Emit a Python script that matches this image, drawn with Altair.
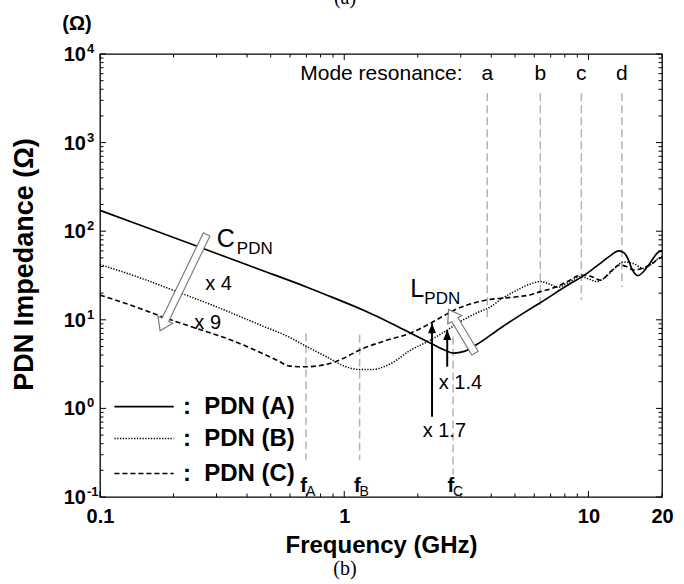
import altair as alt
import pandas as pd
import numpy as np

# ---------------- data ----------------
freq_A = [0.1, 0.14, 0.2, 0.3, 0.45, 0.7, 0.9, 1.2, 1.6, 1.9, 2.3, 2.6, 2.8, 3.1, 3.5, 4.4, 5.5, 6.4,
          8.4, 9.4, 11.0, 12.3, 13.3, 14.0, 14.5, 15.1, 15.9, 16.8, 18.0, 19.3, 20.0]
imp_A = [172, 122, 85, 56, 37, 23.5, 17.8, 12.8, 8.8, 6.9, 5.3, 4.5, 4.2, 4.4, 5.3, 8.2, 12.2, 15.8,
         25.5, 30.5, 42, 53, 60, 57, 49, 37, 31.5, 35, 45, 58, 60]

freq_B = [0.1, 0.14, 0.2, 0.3, 0.45, 0.6, 0.7, 0.85, 1.0, 1.15, 1.3, 1.55, 1.86, 2.25, 2.65, 2.9, 3.5,
          4.0, 4.4, 5.0, 5.7, 6.35, 7.0, 7.5, 8.2, 9.3, 10.0, 10.8, 11.7, 12.8, 13.9, 15.3, 16.8, 18.0,
          19.7, 20.0]
imp_B = [42, 31, 21.5, 14, 8.8, 6.3, 5.0, 3.8, 3.0, 2.75, 2.75, 3.2, 4.5, 5.9, 7.7, 9.1, 12,
         14.2, 17.2, 21, 25, 27, 25, 23.3, 26, 30.7, 29, 27, 30, 38, 45, 43, 38, 42, 51, 52]

freq_C = [0.1, 0.14, 0.18, 0.245, 0.35, 0.46, 0.53, 0.6, 0.69, 0.8, 0.92, 1.2, 1.5, 1.86, 2.25, 2.6,
          2.9, 3.4, 3.96, 4.5, 5.1, 5.8, 6.35, 7.1, 8.2, 9.3, 10.2, 11.2, 12.3, 13.4, 14.3, 15.3, 16.5,
          17.8, 19.7, 20.0]
imp_C = [19, 14, 10.8, 8.1, 5.8, 4.2, 3.5, 3.0, 2.95, 3.05, 3.37, 4.77, 5.9, 7.05, 9.1, 11.4,
         13.3, 15.5, 17, 17.6, 18.2, 19.2, 20.8, 22.6, 27, 32, 31, 28, 35, 41.5, 40, 36.4, 38,
         41.5, 50, 51]

x_tick_labels = [0.1, 1, 10, 20]
x_major = [0.1, 1, 10]
x_minor = [k * 10.0 ** e for e in (-1, 0) for k in range(2, 10)] + [20]
y_major = [0.1, 1, 10, 100, 1000, 10000]
y_minor = [k * 10.0 ** e for e in (-1, 0, 1, 2, 3) for k in range(2, 10)]
y_exps = ["-1", "0", "1", "2", "3", "4"]

# guide lines (gray dashed)
res_freq = [0.697, 1.156, 2.79]
res_names = ["A", "B", "C"]
res_top = [7.05, 6.8, 6.5]
res_bot = [0.26, 0.26, 0.18]
mode_freq = [3.85, 6.35, 9.35, 13.7]
mode_names = ["a", "b", "c", "d"]
mode_top = [3600, 3600, 3600, 3600]
mode_bot = [10.5, 12.9, 16.7, 23.5]

# legend
leg_names = ["PDN (A)", "PDN (B)", "PDN (C)"]
leg_v = [1.045, 0.457, 0.184]

# ---------------- layout ----------------
W, H = 562, 443
FONT = "Liberation Sans, Arial, Helvetica, sans-serif"
SERIF = "Liberation Serif, Times New Roman, serif"

xs = alt.Scale(type="log", domain=[0.1, 20], nice=False)
ys = alt.Scale(type="log", domain=[0.1, 10000], nice=False)

x_axis = alt.Axis(values=x_tick_labels, format="~g", labelFont=FONT, labelFontSize=20,
                  labelFontWeight="bold", labelColor="black", labelPadding=9, labelFlush=False,
                  labelOverlap=False, ticks=False, domain=False, grid=False,
                  title="Frequency (GHz)", titleFont=FONT, titleFontSize=24,
                  titleFontWeight="bold", titleColor="black", titleX=W / 2, titleY=48,
                  titleBaseline="middle", titleAlign="center")
y_axis = alt.Axis(values=y_major, labels=False, ticks=False, domain=False, grid=False,
                  title="PDN Impedance (Ω)", titleFont=FONT, titleFontSize=27,
                  titleFontWeight="bold", titleColor="black", titleAngle=270, titleX=-76,
                  titleY=210, titleBaseline="middle", titleAlign="center")


def X(field="f"):
    return alt.X(f"{field}:Q", scale=xs, axis=x_axis)


def Y(field="v"):
    return alt.Y(f"{field}:Q", scale=ys, axis=y_axis)


layers = []

# gray dashed guide lines
guide_df = pd.DataFrame({"f": res_freq + mode_freq, "v": res_top + mode_top,
                         "v2": res_bot + mode_bot})
layers.append(alt.Chart(guide_df).mark_rule(color="#b4b4b4", strokeWidth=1.5,
                                            strokeDash=[8, 4]).encode(
    x=X(), y=Y(), y2=alt.Y2("v2:Q")))


# curves
def curve(fs, vs, width, dash=None):
    kw = {"strokeDash": dash} if dash else {}
    df = pd.DataFrame({"f": fs, "v": vs})
    return alt.Chart(df).mark_line(color="black", strokeWidth=width, interpolate="monotone",
                                   **kw).encode(x=X(), y=Y())


layers.append(curve(freq_B, imp_B, 1.5, [1.3, 1.5]))
layers.append(curve(freq_C, imp_C, 1.6, [5, 3]))
layers.append(curve(freq_A, imp_A, 1.7))


# inward ticks on all four sides
def yticks(vals, length):
    df = pd.DataFrame({"v": vals})
    left = alt.Chart(df).mark_rule(color="black", strokeWidth=1).encode(
        y=Y(), x=alt.value(0), x2=alt.value(length))
    right = alt.Chart(df).mark_rule(color="black", strokeWidth=1).encode(
        y=Y(), x=alt.value(W), x2=alt.value(W - length))
    return [left, right]


def xticks(vals, length):
    df = pd.DataFrame({"f": vals})
    bottom = alt.Chart(df).mark_rule(color="black", strokeWidth=1).encode(
        x=X(), y=alt.value(H), y2=alt.value(H - length))
    top = alt.Chart(df).mark_rule(color="black", strokeWidth=1).encode(
        x=X(), y=alt.value(0), y2=alt.value(length))
    return [bottom, top]


layers += yticks(y_major, 6) + yticks(y_minor, 3.5) + xticks(x_major, 6) + xticks(x_minor, 3.5)

# y tick labels 10^n
ylab_df = pd.DataFrame({"v": y_major, "s": ["10"] * len(y_major), "e": y_exps})
layers.append(alt.Chart(ylab_df).mark_text(font=FONT, fontSize=20, fontWeight="bold",
                                           align="right", baseline="middle", dy=1,
                                           color="black").encode(
    y=Y(), x=alt.value(-14), text="s:N"))
layers.append(alt.Chart(ylab_df).mark_text(font=FONT, fontSize=13, fontWeight="bold",
                                           align="left", baseline="middle", dy=-5,
                                           color="black").encode(
    y=Y(), x=alt.value(-13), text="e:N"))

# hollow arrows (C_PDN and L_PDN)
hol_f = [0.2693, 3.37]
hol_v = [84.5, 4.56]
hol_tip_f = [0.1762, 2.674]
hol_tip_v = [7.54, 13.1]
hol_angle = [205.8, 329.0]
hol_head_frac = [0.884, 0.75]
hb_f = [10 ** (np.log10(a) + h * (np.log10(b) - np.log10(a)))
        for a, b, h in zip(hol_f, hol_tip_f, hol_head_frac)]
hb_v = [10 ** (np.log10(a) + h * (np.log10(b) - np.log10(a)))
        for a, b, h in zip(hol_v, hol_tip_v, hol_head_frac)]
shaft_df = pd.DataFrame({"f": hol_f, "v": hol_v, "f2": hb_f, "v2": hb_v})
layers.append(alt.Chart(shaft_df).mark_rule(color="#7a7a7a", strokeWidth=8.5,
                                            strokeCap="square").encode(
    x=X(), y=Y(), x2=alt.X2("f2:Q"), y2=alt.Y2("v2:Q")))
layers.append(alt.Chart(shaft_df).mark_rule(color="white", strokeWidth=6.2,
                                            strokeCap="square").encode(
    x=X(), y=Y(), x2=alt.X2("f2:Q"), y2=alt.Y2("v2:Q")))
HOLLOW_HEAD = "M-0.3,1L-0.68,1L0,0L0.68,1L0.3,1"
for tf, tv, ang in zip(hol_tip_f, hol_tip_v, hol_angle):
    layers.append(alt.Chart(pd.DataFrame({"f": [tf], "v": [tv]})).mark_point(
        shape=HOLLOW_HEAD, size=576, angle=ang, filled=True, fill="white", stroke="#7a7a7a",
        strokeWidth=1.2, opacity=1).encode(x=X(), y=Y()))

# black arrows (x 1.7, x 1.4)
blk_f = [2.288, 2.64]
blk_v = [0.805, 2.96]
blk_tip_v = [9.12, 7.67]
blk_df = pd.DataFrame({"f": blk_f, "v": blk_v, "v2": blk_tip_v})
layers.append(alt.Chart(blk_df).mark_rule(color="black", strokeWidth=2).encode(
    x=X(), y=Y(), y2=alt.Y2("v2:Q")))
layers.append(alt.Chart(pd.DataFrame({"f": blk_f, "v": blk_tip_v})).mark_point(
    shape="M0,0L0.4,1L-0.4,1Z", size=400, filled=True, color="black", opacity=1).encode(
    x=X(), y=Y()))

# annotation texts
ann_text = ["x 4", "x 9", "x 1.4", "x 1.7"]
ann_f = [0.306, 0.276, 2.99, 2.57]
ann_v = [25.4, 9.32, 1.96, 0.563]
layers.append(alt.Chart(pd.DataFrame({"f": ann_f, "v": ann_v, "s": ann_text})).mark_text(
    font=FONT, fontSize=20, align="center", baseline="middle", color="black").encode(
    x=X(), y=Y(), text="s:N"))

# C_PDN and L_PDN labels
sym_main = ["C", "L"]
sym_f = [0.3008, 1.865]
sym_v = [66.4, 18.2]
sym_dx = [20, 14]
for m, f, v, dx in zip(sym_main, sym_f, sym_v, sym_dx):
    d = pd.DataFrame({"f": [f], "v": [v], "s": [m], "p": ["PDN"]})
    layers.append(alt.Chart(d).mark_text(font=FONT, fontSize=25, align="left",
                                         baseline="alphabetic", color="black").encode(
        x=X(), y=Y(), text="s:N"))
    layers.append(alt.Chart(d).mark_text(font=FONT, fontSize=17, align="left",
                                         baseline="alphabetic", dx=dx, dy=7,
                                         color="black").encode(
        x=X(), y=Y(), text="p:N"))

# mode resonance labels
layers.append(alt.Chart(pd.DataFrame({"f": [3.05], "v": [6010], "s": ["Mode resonance:"]})).mark_text(
    font=FONT, fontSize=21, align="right", baseline="middle", color="black").encode(
    x=X(), y=Y(), text="s:N"))
layers.append(alt.Chart(pd.DataFrame({"f": mode_freq, "v": [6010] * 4, "s": mode_names})).mark_text(
    font=FONT, fontSize=21, align="center", baseline="middle", color="black").encode(
    x=X(), y=Y(), text="s:N"))

# f_A, f_B, f_C labels
fl_df = pd.DataFrame({"f": res_freq, "v": [0.114] * 3, "s": ["f"] * 3, "n": res_names})
layers.append(alt.Chart(fl_df).mark_text(font=FONT, fontSize=20, fontWeight="bold", align="right",
                                         baseline="alphabetic", dx=1, color="black").encode(
    x=X(), y=Y(), text="s:N"))
layers.append(alt.Chart(fl_df).mark_text(font=FONT, fontSize=14, align="left",
                                         baseline="alphabetic", dx=0, dy=4, color="black").encode(
    x=X(), y=Y(), text="n:N"))

# legend (drawn inside the plot)
leg_df = pd.DataFrame({"f": [0.1146], "f2": [0.2003], "v": [leg_v[0]]})
layers.append(alt.Chart(leg_df).mark_rule(color="black", strokeWidth=1.7).encode(
    x=X(), x2=alt.X2("f2:Q"), y=Y()))
leg_df = pd.DataFrame({"f": [0.1146], "f2": [0.2003], "v": [leg_v[1]]})
layers.append(alt.Chart(leg_df).mark_rule(color="black", strokeWidth=1.5,
                                          strokeDash=[1.3, 1.5]).encode(
    x=X(), x2=alt.X2("f2:Q"), y=Y()))
leg_df = pd.DataFrame({"f": [0.1146], "f2": [0.2003], "v": [leg_v[2]]})
layers.append(alt.Chart(leg_df).mark_rule(color="black", strokeWidth=1.6,
                                          strokeDash=[5, 3]).encode(
    x=X(), x2=alt.X2("f2:Q"), y=Y()))
layers.append(alt.Chart(pd.DataFrame({"f": [0.227] * 3, "v": leg_v, "s": [":"] * 3})).mark_text(
    font=FONT, fontSize=24, fontWeight="bold", align="center", baseline="middle",
    color="black").encode(x=X(), y=Y(), text="s:N"))
layers.append(alt.Chart(pd.DataFrame({"f": [0.267] * 3, "v": leg_v, "s": leg_names})).mark_text(
    font=FONT, fontSize=24, fontWeight="bold", align="left", baseline="middle",
    color="black").encode(x=X(), y=Y(), text="s:N"))

# loose texts outside the plot
def free_text(s, x, y, **kw):
    return alt.Chart(pd.DataFrame({"s": [s]})).mark_text(**kw).encode(
        x=alt.value(x), y=alt.value(y), text="s:N")


layers.append(free_text("(Ω)", -23, -30, font=FONT, fontSize=20, fontWeight="bold",
                        align="center", baseline="middle", color="black"))
layers.append(free_text("(b)", 245, 515, font=SERIF, fontSize=20, align="center",
                        baseline="middle", color="black"))
layers.append(free_text("(a)", 245, -50, font=SERIF, fontSize=20, align="center",
                        baseline="alphabetic", color="black"))

chart = alt.layer(*layers).properties(
    width=W, height=H,
    padding={"left": 100, "top": 54, "right": 22, "bottom": 87},
    autosize=alt.AutoSizeParams(type="none"),
    background="white",
).configure_view(stroke="black", strokeWidth=1.3)

chart.save("out.html", embed_options={"renderer": "svg", "actions": False})
